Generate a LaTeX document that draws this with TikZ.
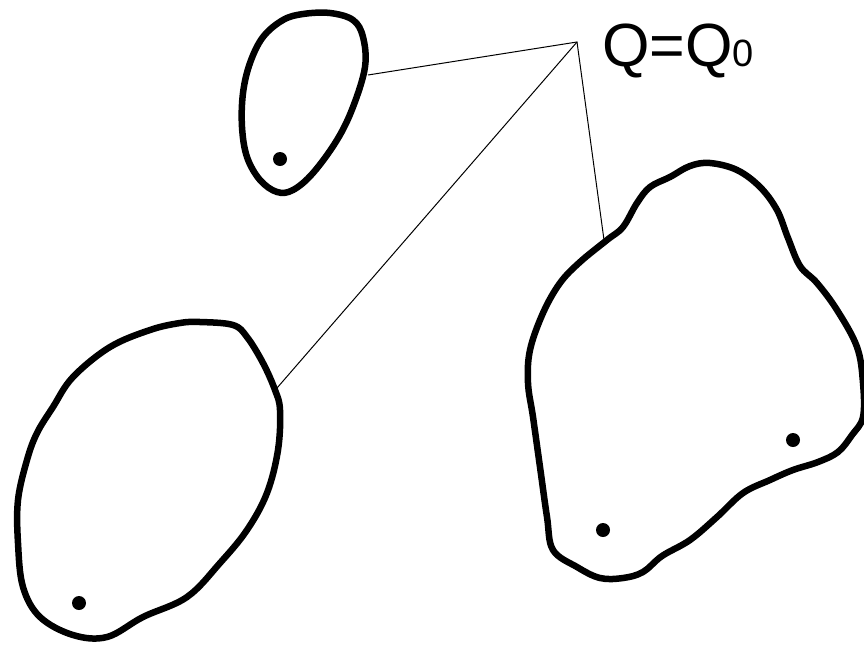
\documentclass[tikz,border=0pt]{standalone}
\usepackage{fontspec}
\setmainfont{Liberation Sans}
\begin{document}
\begin{tikzpicture}[x=1pt,y=-1pt,
  blob/.style={line width=6.5pt,line join=round},
  thin/.style={line width=1pt},
  pt/.style={fill=black}]
\useasboundingbox (0,0) rectangle (864,646);
% small blob
\draw[blob] plot[smooth cycle,tension=0.6] coordinates {
 (303,14) (330,13) (353,20) (363,37) (365,67) (353,107) (337,140) (313,173)
 (293,190) (277,192) (260,180) (247,157) (242,127) (243,93) (250,63) (263,37) (283,20)};
\fill[pt] (280,159) circle (7);
% left blob
\draw[blob] plot[smooth cycle,tension=0.6] coordinates {
 (180,323) (200,322) (233,325) (247,337) (263,363) (275,390) (280,410) (278,450)
 (267,493) (247,530) (220,563) (187,597) (143,617) (107,637) (73,635) (40,617)
 (23,587) (18,543) (18,500) (27,460) (37,433) (53,407) (73,377) (110,347) (150,330)};
\fill[pt] (79,603) circle (7);
% right blob
\draw[blob] plot[smooth cycle,tension=0.6] coordinates {
 (710,163) (737,170) (760,187) (777,210) (788,238) (800,266) (817,283) (837,310)
 (857,347) (863,383) (863,417) (852,435) (838,452) (818,462) (793,470) (770,480)
 (743,493) (717,517) (690,540) (662,556) (643,572) (623,578) (600,578) (577,567)
 (553,550) (547,517) (540,467) (533,417) (528,383) (530,350) (543,313) (560,283)
 (580,262) (607,240) (623,227) (637,203) (650,187) (670,177) (690,166)};
\fill[pt] (793,440) circle (7);
\fill[pt] (603,530) circle (7);
% connectors
\coordinate (apex) at (577,42);
\coordinate (a1) at (368,75);
\coordinate (a2) at (277,388);
\coordinate (a3) at (604,240);
\draw[thin] (a1) -- (apex) -- (a3);
\draw[thin] (a2) -- (apex);
\node[anchor=base west,inner sep=0pt,font=\fontsize{61}{63}\selectfont] (lbl) at (602,66) {Q=Q\raisebox{0pt}{\fontsize{38}{40}\selectfont 0}};
\end{tikzpicture}
\end{document}
